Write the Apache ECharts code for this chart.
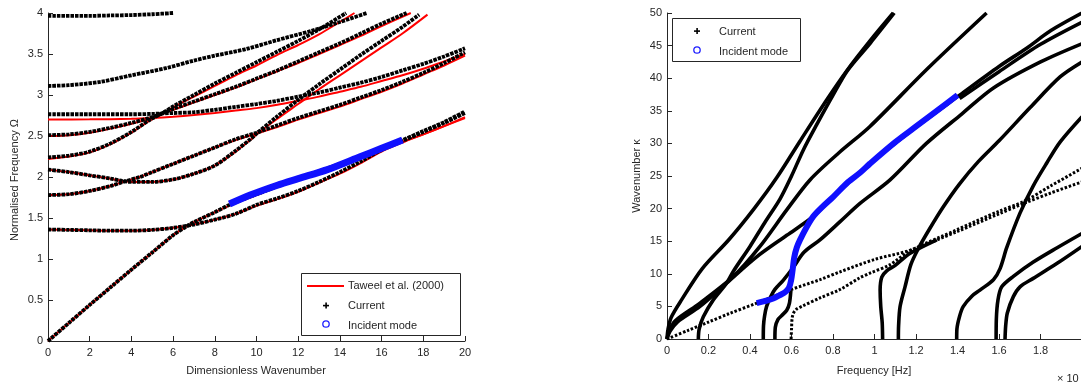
<!DOCTYPE html>
<html>
<head>
<meta charset="utf-8">
<script src="https://cdn.jsdelivr.net/npm/echarts@6/dist/echarts.min.js"></script>
<style>
  html, body { margin: 0; padding: 0; background: #fff; }
  #chart { width: 1081px; height: 382px; }
</style>
</head>
<body>
<div id="chart"></div>
<script>
// ---- left panel: normalised frequency vs dimensionless wavenumber ----
const leftXTicks = [0, 2, 4, 6, 8, 10, 12, 14, 16, 18, 20];
const leftYTicks = [0, 0.5, 1, 1.5, 2, 2.5, 3, 3.5, 4];

// Taweel et al. (2000)
const taweelA = [[0,0],[1,0.22],[2,0.44],[3,0.655],[4,0.87],[5,1.08],[6,1.29],[6.6,1.39],[7,1.45],[8,1.57],[8.7,1.65],[10,1.78],[12,1.97],[14,2.15],[16,2.33],[17,2.43],[18,2.52],[19,2.62],[20,2.73]];
const taweelB = [[0,1.36],[1,1.355],[2,1.35],[3,1.345],[4,1.345],[5,1.355],[6,1.38],[7,1.42],[8,1.48],[9,1.55],[10,1.65],[11,1.73],[12,1.82],[13,1.93],[14,2.04],[15,2.17],[16,2.31],[17,2.42],[18,2.52],[19,2.62],[20,2.72]];
const taweelC = [[0,1.78],[1,1.79],[2,1.83],[3,1.89],[3.6,1.94],[4.4,2.0],[5,2.06],[6,2.16],[7,2.26],[8,2.36],[9,2.45],[10,2.53],[11,2.61],[12,2.7],[13,2.78],[14,2.86],[15,2.95],[16,3.04],[17,3.14],[18,3.25],[19,3.36],[20,3.48]];
const taweelH = [[0,2.09],[1,2.06],[2,2.02],[3,1.98],[3.6,1.95],[4,1.94],[5,1.94],[6,1.97],[7,2.04],[8,2.14],[9,2.31],[9.7,2.45],[10,2.52],[11,2.71],[12,2.89],[13,3.07],[14,3.24],[15,3.41],[16,3.58],[17,3.75],[18.2,3.98]];
const taweelE = [[0,2.5],[1,2.51],[2,2.54],[3,2.59],[4,2.65],[5,2.72],[5.5,2.77],[6,2.82],[7,2.91],[8,3.0],[9,3.09],[10,3.19],[11,3.29],[12,3.39],[13,3.5],[14,3.61],[15,3.72],[16,3.84],[17.4,4.0]];
const taweelF = [[0,2.22],[1,2.25],[2,2.3],[3,2.4],[4,2.54],[4.9,2.69],[5.5,2.77],[6,2.85],[7,2.98],[8,3.11],[9,3.24],[10,3.36],[11,3.49],[12,3.61],[13,3.74],[14.7,4.0]];
const taweelG = [[0,2.7],[2,2.703],[4,2.71],[5,2.72],[6,2.735],[7,2.755],[8,2.78],[9,2.81],[10,2.84],[11,2.88],[12,2.93],[13,2.98],[14,3.04],[15,3.1],[16,3.17],[17,3.24],[18,3.32],[19,3.41],[20,3.5]];

// Current
const currentA = [[0,0],[1,0.22],[2,0.44],[3,0.655],[4,0.87],[5,1.08],[6,1.29],[6.6,1.39],[7,1.45],[8,1.57],[8.7,1.66],[10,1.79],[12,1.98],[14,2.16],[16,2.35],[17,2.45],[18,2.56],[19,2.67],[20,2.8]];
const currentB = [[0,1.36],[1,1.355],[2,1.35],[3,1.345],[4,1.345],[5,1.355],[6,1.38],[7,1.42],[8,1.48],[9,1.55],[10,1.66],[11,1.74],[12,1.83],[13,1.94],[14,2.06],[15,2.19],[16,2.33],[17,2.44],[18,2.55],[19,2.66],[20,2.78]];
const currentC = [[0,1.78],[1,1.79],[2,1.83],[3,1.89],[3.6,1.94],[4.4,2.0],[5,2.06],[6,2.16],[7,2.26],[8,2.36],[9,2.46],[10,2.54],[11,2.63],[12,2.72],[13,2.8],[14,2.88],[15,2.97],[16,3.06],[17,3.16],[18,3.27],[19,3.39],[20,3.52]];
const currentH = [[0,2.09],[1,2.06],[2,2.02],[3,1.98],[3.6,1.95],[4,1.94],[5,1.94],[6,1.97],[7,2.04],[8,2.14],[9,2.32],[9.7,2.46],[10,2.53],[11,2.74],[12,2.94],[13,3.13],[14,3.31],[15,3.49],[16,3.66],[17,3.83],[17.8,3.98]];
const currentD = [[0,3.11],[1,3.12],[2.5,3.16],[4,3.24],[5.7,3.33],[7,3.42],[8,3.48],[9.5,3.56],[11,3.67],[12.6,3.78],[14,3.89],[15.3,4.0]];
const currentE = [[0,2.51],[1,2.52],[2,2.55],[3,2.6],[4,2.66],[5,2.73],[5.5,2.78],[6,2.83],[7,2.92],[8,3.01],[9,3.1],[10,3.2],[11,3.3],[12,3.41],[13,3.52],[14,3.63],[15,3.75],[16,3.87],[17.2,4.0]];
const currentF = [[0,2.24],[1,2.26],[2,2.31],[3,2.41],[4,2.55],[4.9,2.7],[5.5,2.78],[6,2.86],[7,3.0],[8,3.14],[9,3.27],[10,3.4],[11,3.53],[12,3.66],[13,3.8],[14.3,4.0]];
const currentG = [[0,2.765],[2,2.765],[4,2.765],[5,2.77],[6,2.78],[7,2.79],[8,2.82],[9,2.855],[10,2.89],[11,2.93],[12,2.98],[13,3.03],[14,3.09],[15,3.15],[16,3.22],[17,3.3],[18,3.38],[19,3.47],[20,3.57]];
const currentT = [[0,3.965],[2,3.965],[3,3.97],[4,3.975],[5,3.985],[6,4.0]];

// incident mode
const incidentLeft = [[8.7,1.67],[9.7,1.78],[11,1.9],[12,1.98],[13.4,2.09],[15,2.25],[16,2.35],[17,2.45]];

// ---- right panel: wavenumber vs frequency ----
const rightXTicks = [0, 0.2, 0.4, 0.6, 0.8, 1, 1.2, 1.4, 1.6, 1.8];
const rightYTicks = [0, 5, 10, 15, 20, 25, 30, 35, 40, 45, 50];

const modeO1 = [[0,0],[0.005,1.5],[0.02,3.3],[0.07,6],[0.17,10.8],[0.3,15.3],[0.42,20],[0.53,24.8],[0.64,30.3],[0.77,36.7],[0.87,41.3],[0.98,45.8],[1.09,50]];
const modeO2 = [[0,0],[0.01,1.2],[0.04,2.8],[0.159,5.5],[0.32,9.6],[0.448,14.2],[0.577,19.8],[0.689,24.4],[0.83,28.6],[0.978,32.6],[1.25,41.3],[1.54,50]];
const modeO3 = [[0,0],[0.015,1.2],[0.05,2.6],[0.159,5],[0.288,8.6],[0.432,12.6],[0.577,15.9],[0.705,18.8],[0.801,21.8],[0.978,26.9],[1.2,32.5],[1.41,37.4],[1.6,41.8],[1.733,44.6],[1.85,47.3],[2,50]];
const modeC015 = [[0.151,0],[0.155,1.5],[0.175,3.4],[0.223,6],[0.288,8.6],[0.32,10.4],[0.4,14.2],[0.47,17.8],[0.545,21.5],[0.6,25],[0.657,29],[0.72,32.8],[0.8,37.4],[0.87,41.2],[0.98,45.4],[1.095,50]];
const modeDot1 = [[0,0],[0.1,1.3],[0.2,2.6],[0.3,3.9],[0.432,5.5],[0.6,7.6],[0.737,9.1],[0.834,10.3],[1.0,12.2],[1.17,13.6],[1.4,16.5],[1.6,19.2],[1.72,20.8],[1.85,22.4],[2,24.1]];
const modeDot2 = [[0.598,0],[0.6,1.5],[0.603,3.2],[0.61,4.0],[0.625,4.6],[0.65,5.0],[0.737,6.3],[0.834,7.6],[0.93,9.4],[0.978,10.1],[1.075,11.4],[1.17,13.5],[1.4,16.8],[1.6,19.6],[1.72,21.1],[1.85,23.5],[2,26.2]];
const modeS046 = [[0.464,0],[0.465,2],[0.47,3.5],[0.48,5],[0.5,6.5],[0.52,7.6],[0.56,9],[0.609,11],[0.66,13.3],[0.737,15.2],[0.834,18],[0.93,20.8],[1.075,24.4],[1.25,30],[1.42,34.5],[1.573,38.5],[1.8,42.5],[2,45.3]];
const modeS052 = [[0.52,0],[0.522,1.8],[0.535,3],[0.553,3.6],[0.577,4.4],[0.59,5.5],[0.597,7.5]];
const modeS104 = [[1.039,0],[1.037,2.5],[1.03,5],[1.027,7.5],[1.035,9.5],[1.06,10.5],[1.1,11.3],[1.17,13.1],[1.3,15.2]];
const modeS111 = [[1.115,0],[1.116,2],[1.123,4.95],[1.147,8],[1.175,11.4],[1.21,13.8],[1.26,16.6],[1.33,20.2],[1.41,23.8],[1.5,27.2],[1.6,30.4],[1.75,35.5],[1.894,40.2],[2,42.5]];
const modeS140 = [[1.396,0],[1.397,1.5],[1.41,3.5],[1.428,5],[1.47,6.6],[1.508,7.5],[1.573,9.1],[1.605,10.8],[1.637,14],[1.701,19.3],[1.765,23.5],[1.83,27],[1.894,30.2],[2,34.1]];
const modeS158 = [[1.586,0],[1.587,3],[1.595,6],[1.613,8],[1.669,9.6],[1.765,11.8],[1.88,14],[2,16.2]];
const modeS162 = [[1.629,0],[1.632,2],[1.64,4],[1.669,6.5],[1.701,8],[1.765,9.3],[1.88,11.6],[2,14.2]];
const modeTail = [[1.41,36.9],[1.6,41],[1.8,45.2],[2,48.6]];

const incidentRight = [[0.432,5.5],[0.47,5.8],[0.512,6.2],[0.545,6.75],[0.57,7.2],[0.588,7.9],[0.598,9],[0.605,10.5],[0.613,12.5],[0.625,14],[0.641,15.2],[0.67,17],[0.705,18.8],[0.75,20.3],[0.801,21.8],[0.87,24],[0.93,25.5],[0.978,26.9],[1.1,30.2],[1.2,32.6],[1.3,35],[1.4,37.4]];

const FONT = 'Liberation Sans, Arial, sans-serif';
const AX = '#262626';

function curve(data, idx, color, width, z, dash) {
  return {
    type: 'line', data: data, xAxisIndex: idx, yAxisIndex: idx,
    showSymbol: false, smooth: 0.3, z: z, silent: true,
    lineStyle: { color: color, width: width, type: dash || 'solid' }
  };
}

const series = [];
[taweelA, taweelB, taweelC, taweelH, taweelE, taweelF, taweelG].forEach(d =>
  series.push(curve(d, 0, '#ff0000', 2, 2)));
[currentA, currentB, currentC, currentH, currentD, currentE, currentF, currentG, currentT].forEach(d =>
  series.push(curve(d, 0, '#000', 3.8, 3, [3.5, 1])));
series.push(curve(incidentLeft, 0, '#1010ff', 7, 4));

[modeO1, modeO2, modeO3, modeC015, modeS046, modeS052, modeS104, modeS111, modeS140, modeS158, modeS162, modeTail].forEach(d =>
  series.push(curve(d, 1, '#000', 3.6, 3)));
[modeDot1, modeDot2].forEach(d =>
  series.push(curve(d, 1, '#000', 3, 3, [2.5, 1.8])));
series.push(curve(incidentRight, 1, '#1010ff', 6, 4));

function axisBase(extra) {
  return Object.assign({
    type: 'value',
    splitLine: { show: false },
    axisLine: { show: true, onZero: false, lineStyle: { color: AX, width: 1 } },
    axisTick: { show: true, inside: true, length: 5, lineStyle: { color: AX } },
    axisLabel: { color: AX, fontSize: 11, fontFamily: FONT, margin: 6 }
  }, extra);
}

const chart = echarts.init(document.getElementById('chart'), null, { renderer: 'canvas' });

function legendMarker(x, y) {
  return [
    { type: 'rect', shape: { x: x - 3, y: y - 0.7, width: 6, height: 1.6 }, style: { fill: '#000' }, z: 101 },
    { type: 'rect', shape: { x: x - 0.7, y: y - 3, width: 1.6, height: 6 }, style: { fill: '#000' }, z: 101 }
  ];
}
function legendCircle(x, y) {
  return { type: 'circle', shape: { cx: x, cy: y, r: 3.2 }, style: { fill: 'none', stroke: '#2020ff', lineWidth: 1.3 }, z: 101 };
}
function label(x, y, text, rot) {
  return {
    type: 'text', x: x, y: y, rotation: rot || 0, z: 101,
    style: { text: text, fill: AX, font: '11px ' + FONT, textAlign: 'center', textVerticalAlign: 'middle' }
  };
}
function legendText(x, y, text) {
  return {
    type: 'text', x: x, y: y, z: 101,
    style: { text: text, fill: AX, font: '11px ' + FONT, textAlign: 'left', textVerticalAlign: 'middle' }
  };
}

const graphics = [
  label(256, 371, 'Dimensionless Wavenumber'),
  label(15, 180, 'Normalised Frequency Ω', Math.PI / 2),
  label(874, 371, 'Frequency [Hz]'),
  label(637, 176, 'Wavenumber κ', Math.PI / 2),
  { type: 'text', x: 1057, y: 373, z: 101, style: { text: '× 10', fill: AX, font: '11px ' + FONT, textAlign: 'left', textVerticalAlign: 'top' } },
  // left legend
  { type: 'rect', shape: { x: 301.5, y: 273.5, width: 159, height: 62 }, style: { fill: '#fff', stroke: AX, lineWidth: 1 }, z: 100 },
  { type: 'line', shape: { x1: 307, y1: 286, x2: 344, y2: 286 }, style: { stroke: '#ff0000', lineWidth: 2 }, z: 101 },
  legendText(348, 286, 'Taweel et al. (2000)'),
  ...legendMarker(326, 305.5),
  legendText(348, 306, 'Current'),
  legendCircle(326, 324),
  legendText(348, 326, 'Incident mode'),
  // right legend
  { type: 'rect', shape: { x: 672.5, y: 18.5, width: 128, height: 43 }, style: { fill: '#fff', stroke: AX, lineWidth: 1 }, z: 100 },
  ...legendMarker(697, 31),
  legendText(719, 32, 'Current'),
  legendCircle(697, 50),
  legendText(719, 52, 'Incident mode')
];

chart.setOption({
  animation: false,
  backgroundColor: '#fff',
  grid: [
    { left: 48, top: 13, width: 417, height: 328 },
    { left: 667, top: 13, right: 0, height: 326 }
  ],
  xAxis: [
    axisBase({ gridIndex: 0, min: leftXTicks[0], max: leftXTicks[leftXTicks.length - 1], interval: 2 }),
    axisBase({ gridIndex: 1, min: rightXTicks[0], max: 1.995, interval: 0.2,
      axisLabel: { color: AX, fontSize: 11, fontFamily: FONT, margin: 6, showMaxLabel: false,
        formatter: v => String(+v.toFixed(1)) } })
  ],
  yAxis: [
    axisBase({ gridIndex: 0, min: leftYTicks[0], max: leftYTicks[leftYTicks.length - 1], interval: 0.5,
      axisLabel: { color: AX, fontSize: 11, fontFamily: FONT, margin: 5 } }),
    axisBase({ gridIndex: 1, min: rightYTicks[0], max: rightYTicks[rightYTicks.length - 1], interval: 5,
      axisLabel: { color: AX, fontSize: 11, fontFamily: FONT, margin: 5 } })
  ],
  series: series,
  graphic: graphics
});
</script>
</body>
</html>
